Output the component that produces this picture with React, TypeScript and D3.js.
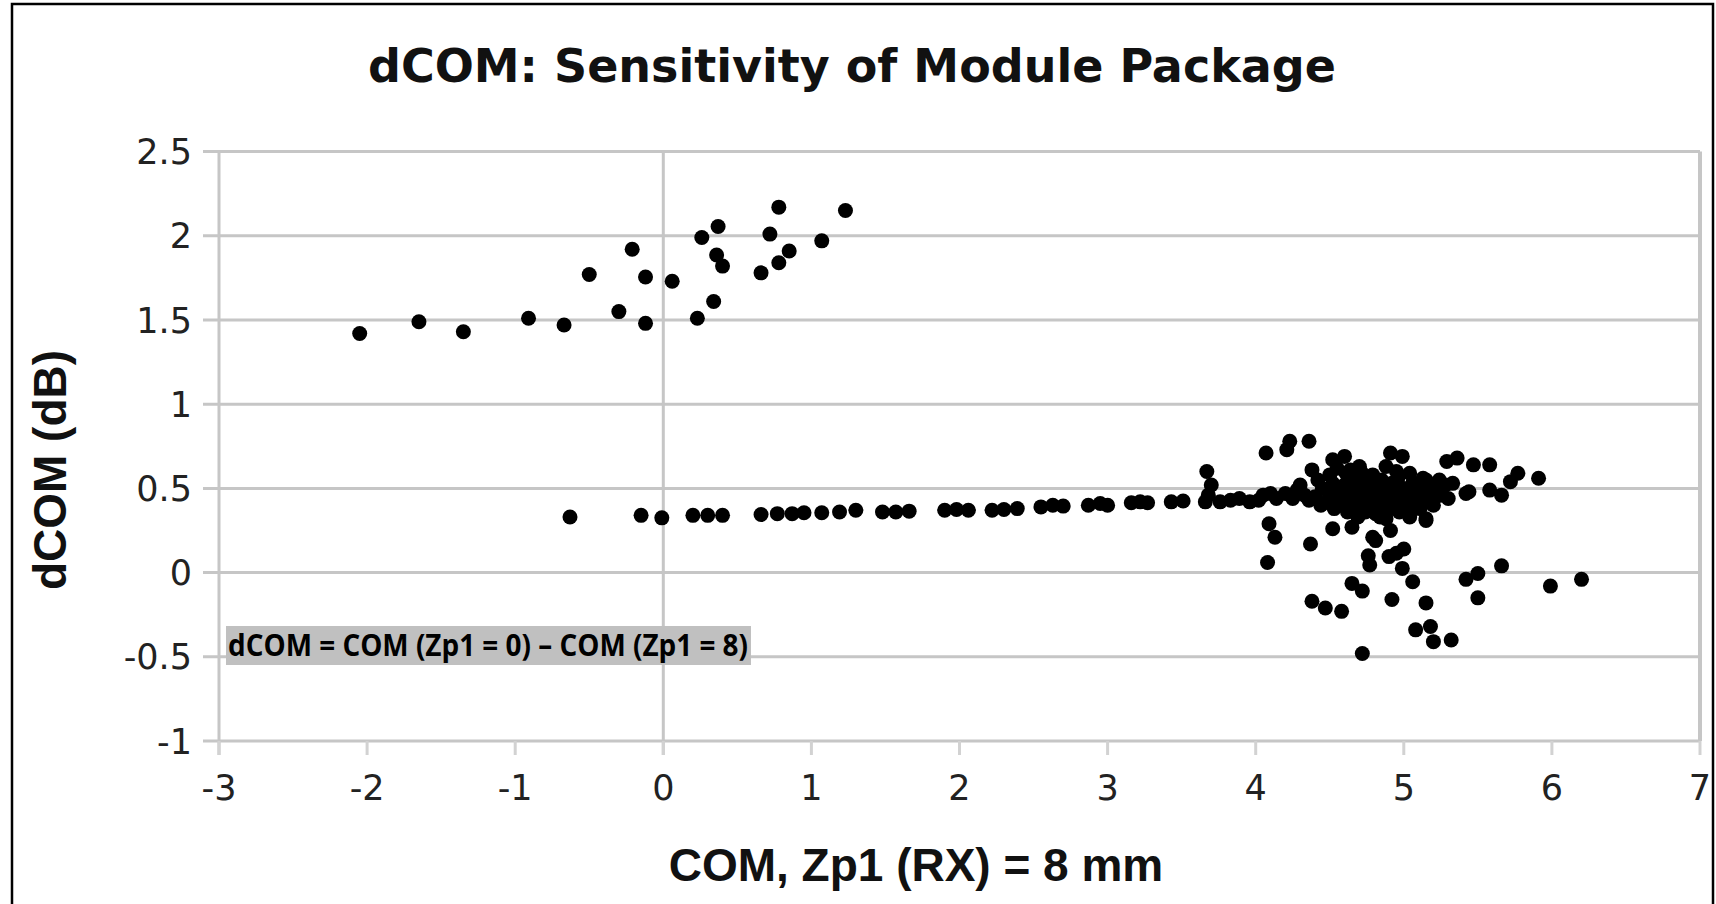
import React from "react";
import * as d3 from "d3";

const xTicks = [-3, -2, -1, 0, 1, 2, 3, 4, 5, 6, 7];
const yTicks = [-1, -0.5, 0, 0.5, 1, 1.5, 2, 2.5];
const verticalLines = [-3, 0, 7];

const upperX = [-2.05, -1.65, -1.35, -0.91, -0.67, -0.5, -0.3, -0.21, -0.12, -0.12, 0.06, 0.23, 0.26, 0.34, 0.37, 0.36, 0.4, 0.66, 0.72, 0.78, 0.78, 0.85, 1.07, 1.23];
const upperY = [1.42, 1.49, 1.43, 1.51, 1.47, 1.77, 1.55, 1.92, 1.755, 1.48, 1.73, 1.51, 1.99, 1.61, 2.055, 1.886, 1.82, 1.78, 2.01, 2.17, 1.84, 1.91, 1.97, 2.15];

const linePoints: [number, number][] = [
  [-0.63, 0.33], [-0.15, 0.34], [-0.01, 0.325], [0.2, 0.34], [0.3, 0.34], [0.4, 0.34],
  [0.66, 0.345], [0.77, 0.35], [0.87, 0.35], [0.95, 0.355], [1.07, 0.355], [1.19, 0.36],
  [1.3, 0.37], [1.48, 0.36], [1.57, 0.36], [1.66, 0.365], [1.9, 0.37], [1.98, 0.375],
  [2.06, 0.37], [2.22, 0.37], [2.3, 0.375], [2.39, 0.38], [2.55, 0.39], [2.63, 0.4],
  [2.7, 0.395], [2.87, 0.4], [2.95, 0.41], [3.0, 0.4], [3.16, 0.415], [3.22, 0.42],
  [3.27, 0.415], [3.43, 0.42], [3.51, 0.425], [3.66, 0.42], [3.67, 0.6], [3.7, 0.52],
  [3.68, 0.46], [3.76, 0.42], [3.83, 0.43], [3.89, 0.44], [3.96, 0.42], [4.05, 0.46],
];

const clusterHigh: [number, number][] = [
  [4.07, 0.71], [4.21, 0.73], [4.23, 0.78], [4.36, 0.78], [4.38, 0.61], [4.52, 0.67],
  [4.6, 0.69], [4.55, 0.62], [4.61, 0.59], [4.7, 0.63], [4.73, 0.57], [4.91, 0.71],
  [4.99, 0.69], [4.88, 0.63], [5.04, 0.59], [5.15, 0.55], [5.29, 0.66], [5.36, 0.68],
  [5.47, 0.64], [5.58, 0.64], [5.44, 0.48], [5.33, 0.53], [5.58, 0.49], [5.66, 0.46],
  [5.72, 0.54], [5.77, 0.59], [5.91, 0.56], [5.42, 0.47],
];

const clusterLow: [number, number][] = [
  [4.09, 0.29], [4.13, 0.21], [4.08, 0.06], [4.37, 0.17], [4.52, 0.26], [4.65, 0.27],
  [4.79, 0.21], [4.81, 0.19], [4.91, 0.25], [5.04, 0.33], [5.15, 0.32], [4.84, 0.33],
  [4.76, 0.1], [4.77, 0.045], [4.9, 0.095], [4.95, 0.115], [4.99, 0.025], [5.06, -0.054],
  [4.65, -0.064], [4.72, -0.11], [4.38, -0.17], [4.47, -0.21], [4.58, -0.23], [4.92, -0.16],
  [5.15, -0.18], [5.42, -0.04], [5.5, -0.005], [5.5, -0.15], [5.66, 0.04], [5.99, -0.08],
  [6.2, -0.04], [5.08, -0.34], [5.18, -0.32], [5.2, -0.41], [5.32, -0.4], [4.72, -0.48],
  [5.04, 0.35], [5.15, 0.31], [5.0, 0.14],
];

const clusterCore: [number, number][] = [
  [4.4, 0.45], [4.45, 0.5], [4.48, 0.42], [4.5, 0.47], [4.52, 0.53], [4.55, 0.44],
  [4.57, 0.49], [4.58, 0.4], [4.6, 0.52], [4.62, 0.46], [4.63, 0.56], [4.65, 0.43],
  [4.66, 0.5], [4.68, 0.38], [4.69, 0.54], [4.7, 0.46], [4.71, 0.6], [4.72, 0.42],
  [4.73, 0.5], [4.74, 0.36], [4.75, 0.55], [4.76, 0.45], [4.77, 0.4], [4.78, 0.52],
  [4.79, 0.58], [4.8, 0.47], [4.81, 0.35], [4.82, 0.43], [4.83, 0.5], [4.84, 0.39],
  [4.85, 0.55], [4.86, 0.46], [4.87, 0.42], [4.88, 0.32], [4.89, 0.5], [4.9, 0.44],
  [4.91, 0.38], [4.92, 0.53], [4.93, 0.47], [4.95, 0.41], [4.96, 0.56], [4.98, 0.45],
  [5.0, 0.5], [5.02, 0.4], [5.04, 0.47], [5.06, 0.53], [5.08, 0.44], [5.1, 0.49],
  [5.12, 0.42], [5.15, 0.48], [5.18, 0.45], [5.22, 0.5], [5.25, 0.46], [5.28, 0.52],
  [4.2, 0.47], [4.25, 0.44], [4.28, 0.49], [4.33, 0.46], [4.36, 0.43], [4.14, 0.44],
  [4.1, 0.47], [4.02, 0.43], [4.44, 0.4], [4.53, 0.38], [4.62, 0.36], [4.69, 0.33],
  [4.97, 0.36], [5.03, 0.37], [5.11, 0.38], [5.2, 0.4], [5.3, 0.44], [4.3, 0.52],
  [4.42, 0.55], [4.5, 0.58], [4.64, 0.61], [4.95, 0.6], [5.13, 0.56], [5.24, 0.55],
];

const titleText = "dCOM: Sensitivity of Module Package";
const xTitle = "COM, Zp1 (RX) = 8 mm";
const yTitle = "dCOM (dB)";
const noteText = "dCOM = COM (Zp1 = 0) \u2013 COM (Zp1 = 8)";

export default function App() {
  const x = d3.scaleLinear().domain([-3, 7]).range([219, 1700]);
  const y = d3.scaleLinear().domain([-1, 2.5]).range([741, 151.6]);

  const points: [number, number][] = [
    ...upperX.map((v, i) => [v, upperY[i]] as [number, number]),
    ...linePoints,
    ...clusterHigh,
    ...clusterLow,
    ...clusterCore,
  ];

  const grid = "#c6c6c6";
  const tickFont = "'DejaVu Sans', sans-serif";

  return (
    <div style={{ position: "absolute", left: 0, top: 0 }}>
      <svg width={1716} height={904} style={{ display: "block", background: "#fff" }}>
        <rect x={12} y={4} width={1701} height={1000} fill="#fff" stroke="#000" strokeWidth={2.5} />
        <text x={852} y={82} textAnchor="middle" fontFamily="'DejaVu Sans', sans-serif" fontWeight="bold" fontSize={46} fill="#111">
          {titleText}
        </text>

        {yTicks.map((t) => (
          <line key={"h" + t} x1={203} x2={1700} y1={y(t)} y2={y(t)} stroke={grid} strokeWidth={3} />
        ))}
        {verticalLines.map((t) => (
          <line key={"v" + t} x1={x(t)} x2={x(t)} y1={y(2.5)} y2={t === 7 ? y(-1) : y(-1) + 14} stroke={grid} strokeWidth={t === 7 ? 4 : 3} />
        ))}
        {xTicks.map((t) => (
          <line key={"xt" + t} x1={x(t)} x2={x(t)} y1={y(-1)} y2={y(-1) + 14} stroke="#d2d2d2" strokeWidth={3} />
        ))}

        {yTicks.map((t) => (
          <text key={"yl" + t} x={192} y={y(t) + 12.5} textAnchor="end" fontFamily={tickFont} fontSize={35} fill="#222">
            {String(t)}
          </text>
        ))}
        {xTicks.map((t) => (
          <text key={"xl" + t} x={x(t)} y={800} textAnchor="middle" fontFamily={tickFont} fontSize={35} fill="#222">
            {String(t)}
          </text>
        ))}

        <text x={916} y={881} textAnchor="middle" fontFamily="'Liberation Sans', Arial, sans-serif" fontWeight="bold" fontSize={46} fill="#111">
          {xTitle}
        </text>
        <text
          transform="translate(66,470) rotate(-90)"
          textAnchor="middle"
          fontFamily="'Liberation Sans', Arial, sans-serif"
          fontWeight="bold"
          fontSize={46}
          fill="#111"
        >
          {yTitle}
        </text>

        <rect x={226} y={626} width={525} height={39} fill="#c0c0c0" />
        <text x={228} y={656} fontFamily="'Open Sans', sans-serif" fontWeight="bold" fontSize={30} fill="#000" textLength={520} lengthAdjust="spacingAndGlyphs">
          {noteText}
        </text>

        {points.map((p, i) => (
          <circle key={"p" + i} cx={x(p[0])} cy={y(p[1])} r={7.5} fill="#000" />
        ))}
      </svg>
    </div>
  );
}
